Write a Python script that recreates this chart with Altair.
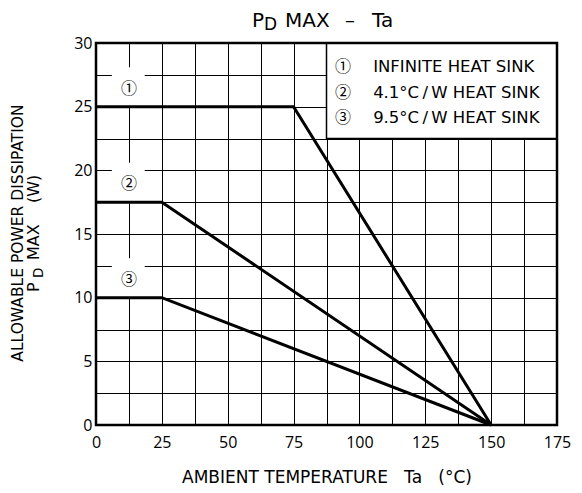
import altair as alt
import pandas as pd
import numpy as np

# ---- data ----
curve_ids = ["①", "②", "③"]
curve_ta = [[0, 75, 150], [0, 25, 150], [0, 25, 150]]
curve_pd = [[25, 25, 0], [17.5, 17.5, 0], [10, 10, 0]]
label_ta = 12.5
label_pd = [26.4, 18.9, 11.4]
label_box_lo = [25, 17.5, 10]
label_box_hi = [28.1, 20.6, 13.1]
legend_texts = ["INFINITE HEAT SINK", "4.1°C\u2009/\u2009W HEAT SINK", "9.5°C\u2009/\u2009W HEAT SINK"]
legend_pd = [28.1, 26.1, 24.1]
legend_sym_ta = 93.8
legend_txt_ta = 105.2
x_ticks = list(np.arange(0, 175.01, 12.5))
y_ticks = list(np.arange(0, 30.01, 2.5))

FONT = "DejaVu Sans"
TICKFONT = "Open Sans"
W, H = 461, 382

lines_df = pd.DataFrame(
    [{"id": cid, "order": i, "ta": t, "pd": p}
     for cid, ts, ps in zip(curve_ids, curve_ta, curve_pd)
     for i, (t, p) in enumerate(zip(ts, ps))]
)
boxes_df = pd.DataFrame({"x": [label_ta - 6.5] * 3, "x2": [label_ta + 6] * 3,
                         "y": label_box_lo, "y2": label_box_hi})
labels_df = pd.DataFrame({"id": curve_ids, "x": [label_ta] * 3, "y": label_pd})
legend_df = pd.DataFrame({"id": curve_ids, "txt": legend_texts, "y": legend_pd,
                          "xs": [legend_sym_ta] * 3, "xt": [legend_txt_ta] * 3})
legend_box_df = pd.DataFrame({"x": [87.5], "x2": [175], "y": [22.5], "y2": [30]})
frame_df = pd.DataFrame({"x": [0], "x2": [175], "y": [0], "y2": [30]})

xs = alt.Scale(domain=[0, 175], nice=False, zero=False)
ys = alt.Scale(domain=[0, 30], nice=False, zero=False)

axis_x = alt.Axis(values=x_ticks, labelExpr="datum.value % 25 == 0 ? datum.label : ''",
                  grid=True, gridColor="black", gridWidth=1, gridOpacity=1,
                  ticks=False, domain=False, title=None, labelFont=TICKFONT, labelFontSize=16,
                  labelColor="black", labelPadding=9, labelFlush=False, labelOverlap=False)
axis_y = alt.Axis(values=y_ticks, labelExpr="datum.value % 5 == 0 ? datum.label : ''",
                  grid=True, gridColor="black", gridWidth=1, gridOpacity=1,
                  ticks=False, domain=False, title=None, labelFont=TICKFONT, labelFontSize=16,
                  labelColor="black", labelPadding=4, labelFlush=False, labelOverlap=False)


def X(field):
    return alt.X(field, scale=xs, axis=axis_x, title=None)


def Y(field):
    return alt.Y(field, scale=ys, axis=axis_y, title=None)


boxes = alt.Chart(boxes_df).mark_rect(fill="white").encode(
    x=X("x:Q"), x2="x2:Q", y=Y("y:Q"), y2="y2:Q")

legend_box = alt.Chart(legend_box_df).mark_rect(fill="white", stroke="black", strokeWidth=1.5).encode(
    x=X("x:Q"), x2="x2:Q", y=Y("y:Q"), y2="y2:Q")

curves = alt.Chart(lines_df).mark_line(color="black", strokeWidth=3, strokeJoin="miter").encode(
    x=X("ta:Q"), y=Y("pd:Q"), detail="id:N", order="order:Q")

labels = alt.Chart(labels_df).mark_text(font="Noto Sans CJK JP", fontSize=16, color="black").encode(
    x=X("x:Q"), y=Y("y:Q"), text="id:N")

leg_sym = alt.Chart(legend_df).mark_text(font="Noto Sans CJK JP", fontSize=16, color="black").encode(
    x=X("xs:Q"), y=Y("y:Q"), text="id:N")
leg_txt = alt.Chart(legend_df).mark_text(font=FONT, fontSize=16.5, color="black", align="left").encode(
    x=X("xt:Q"), y=Y("y:Q"), text="txt:N")

frame = alt.Chart(frame_df).mark_rect(fill=None, stroke="black", strokeWidth=2.5).encode(
    x=X("x:Q"), x2="x2:Q", y=Y("y:Q"), y2="y2:Q")


# ---- annotation text (title and axis titles, pixel anchored) ----
def txt(text, px, py, size, align="left", baseline="alphabetic", angle=0):
    return alt.Chart(pd.DataFrame({"t": [text]})).mark_text(
        font=FONT, fontSize=size, color="black", align=align, baseline=baseline, angle=angle
    ).encode(x=alt.value(px), y=alt.value(py), text="t:N")


annots = [
    txt("P", 156, -16, 20), txt("D", 168, -13, 17), txt("MAX", 189, -16, 20),
    txt("–", 249, -16, 20), txt("Ta", 276, -16, 20),
    txt("AMBIENT\u00a0TEMPERATURE\u00a0\u00a0\u00a0Ta\u00a0\u00a0\u00a0(°C)", 231, 439.5, 17,
        align="center"),
    txt("ALLOWABLE\u00a0POWER\u00a0DISSIPATION", -73, 190, 15.5, align="center", angle=270),
    txt("P", -57, 249, 16, angle=270),
    txt("D", -53, 235, 13.5, angle=270),
    txt("MAX", -57, 217, 16, angle=270),
    txt("(W)", -57, 160, 16, angle=270),
]

chart = alt.layer(boxes, legend_box, curves, labels, leg_sym, leg_txt, frame, *annots).properties(
    width=W, height=H,
    padding={"left": 88, "top": 35, "right": 17, "bottom": 60},
    autosize=alt.AutoSizeParams(type="none"),
).configure_view(stroke=None)

chart.save("out.html", embed_options={"renderer": "svg", "actions": False})
